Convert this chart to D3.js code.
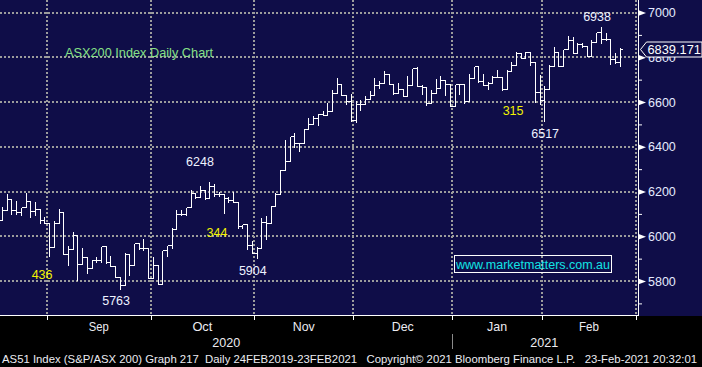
<!DOCTYPE html>
<html><head><meta charset="utf-8">
<script src="https://cdn.jsdelivr.net/npm/d3@7"></script>
<style>
html,body{margin:0;padding:0;background:#000;}
svg{display:block;}
text{font-family:"Liberation Sans",Arial,sans-serif;}
</style></head><body>
<svg id="c" width="702" height="367"></svg>
<script>
// ---- data (ASX200 daily bars, 18 Aug 2020 - 23 Feb 2021) ----
const opens = [6074,6117,6166,6117,6107,6129,6156,6114,6121,6073,
 6059,5953,6059,6107,5921,5941,6006,5877,5907,5858,
 5895,5892,5956,5884,5865,5818,5784,5921,5873,5969,
 5948,5948,5815,5873,5788,5939,5961,6033,6099,6099,
 6132,6193,6176,6208,6173,6225,6188,6188,6173,6161,
 6154,6047,6054,5962,5927,5947,6064,6058,6136,6188,
 6297,6337,6449,6416,6416,6481,6501,6529,6548,6541,
 6560,6641,6681,6633,6604,6519,6590,6590,6612,6633,
 6674,6686,6726,6681,6641,6659,6627,6677,6753,6671,
 6667,6597,6641,6664,6699,6681,6582,6681,6681,6604,
 6707,6759,6693,6677,6686,6711,6711,6659,6738,6766,
 6819,6797,6822,6778,6647,6607,6659,6763,6825,6760,
 6837,6877,6819,6859,6849,6807,6867,6914,6881,6881,
 6793,6781];
const highs = [6136,6193,6166,6161,6132,6197,6156,6159,6121,6092,
 6059,6073,6126,6107,5959,6025,6006,5951,5910,5899,
 5914,5956,5956,5917,5865,5818,5929,5921,5969,5973,
 5993,5948,5914,5873,5939,5961,6043,6121,6121,6132,
 6210,6193,6230,6210,6248,6236,6203,6188,6181,6203,
 6154,6057,6054,5982,5957,6088,6094,6139,6196,6300,
 6434,6449,6467,6422,6486,6533,6541,6551,6563,6600,
 6659,6714,6681,6633,6641,6610,6615,6630,6652,6714,
 6699,6744,6726,6686,6689,6659,6719,6753,6763,6679,
 6667,6659,6707,6723,6699,6681,6681,6681,6686,6730,
 6759,6759,6730,6692,6723,6748,6711,6748,6785,6830,
 6819,6827,6822,6778,6726,6674,6770,6852,6830,6837,
 6899,6896,6870,6870,6852,6881,6914,6938,6914,6886,
 6825,6845];
const lows = [6074,6117,6099,6099,6095,6129,6084,6096,6059,6059,
 5910,5953,6059,5921,5873,5941,5806,5874,5837,5858,
 5884,5884,5881,5865,5818,5763,5784,5825,5873,5944,
 5939,5815,5815,5788,5788,5914,5947,6033,6096,6096,
 6132,6173,6176,6166,6173,6181,6181,6102,6151,6151,
 6039,6039,5942,5923,5904,5947,5987,6058,6136,6188,
 6297,6337,6397,6379,6416,6481,6501,6496,6541,6541,
 6560,6641,6633,6593,6516,6511,6563,6590,6612,6633,
 6664,6686,6681,6637,6641,6627,6627,6677,6671,6634,
 6588,6597,6641,6664,6630,6582,6582,6634,6597,6604,
 6707,6689,6677,6656,6686,6711,6655,6659,6738,6766,
 6797,6797,6766,6600,6593,6517,6659,6763,6760,6760,
 6837,6819,6819,6844,6804,6807,6867,6862,6877,6770,
 6773,6763];
const closes = [6117,6166,6117,6107,6129,6156,6114,6121,6073,6059,
 5953,6059,6107,5921,5941,6006,5877,5907,5858,5895,
 5892,5956,5884,5865,5818,5784,5921,5873,5969,5948,
 5948,5815,5873,5788,5939,5961,6033,6099,6099,6132,
 6193,6176,6208,6173,6225,6188,6188,6173,6161,6154,
 6047,6054,5962,5927,5947,6064,6058,6136,6188,6297,
 6337,6449,6416,6416,6481,6501,6529,6548,6541,6560,
 6641,6681,6633,6604,6519,6590,6590,6612,6633,6674,
 6686,6726,6681,6641,6659,6627,6677,6753,6671,6667,
 6597,6641,6664,6699,6681,6582,6681,6681,6604,6707,
 6759,6693,6677,6686,6711,6711,6659,6738,6766,6819,
 6797,6822,6778,6647,6607,6659,6763,6825,6760,6837,
 6877,6819,6859,6849,6807,6867,6914,6881,6881,6793,
 6781,6839.171];
const holidays = ["2020-12-25","2020-12-28","2021-01-01","2021-01-26"];
const monthLabels = ["Sep","Oct","Nov","Dec","Jan","Feb"];
const yearLabels = ["2020","2021"];
const yMajor = [5800,6000,6200,6400,6600,6800,7000];
const yMinor = [5700,5900,6100,6300,6500,6700,6900];
const lastValue = "6839.171";
const notes = [ // label, bar index, value anchor, colour
 {t:"6938", i:126.2, v:6984, c:"#eef2ff"},
 {t:"6517", i:115.2, v:6461, c:"#eef2ff"},
 {t:"6248", i:42.0,  v:6334, c:"#eef2ff"},
 {t:"5904", i:53.2,  v:5845, c:"#eef2ff"},
 {t:"5763", i:24.2,  v:5715, c:"#eef2ff"},
 {t:"436",  i:8.5,   v:5831, c:"#f2f200"},
 {t:"344",  i:45.6,  v:6019, c:"#f2f200"},
 {t:"315",  i:108.4, v:6560, c:"#f2f200"}
];

// ---- layout ----
const W = 702, H = 367, plotR = 638, plotB = 316;
const navy = "#0f0d48";
const svg = d3.select("#c");

// trading calendar
const fmt = d3.utcFormat("%Y-%m-%d");
const days = d3.utcDay.range(new Date(Date.UTC(2020,7,18)), new Date(Date.UTC(2021,2,6)))
  .filter(d => d.getUTCDay() % 6 !== 0 && !holidays.includes(fmt(d)));
const bounds = [];
for (let k = 1; k < days.length; k++) {
  if (days[k].getUTCMonth() !== days[k-1].getUTCMonth()) bounds.push({k: k - 0.5, d: days[k]});
}

const x = d3.scaleLinear().domain([0, 131]).range([2, 2 + 4.715*131]);
const y = d3.scaleLinear().domain([5645, 7056]).range([315.7, 0]);

svg.append("rect").attr("width", W).attr("height", H).attr("fill", "#000");
svg.append("rect").attr("width", W).attr("height", plotB).attr("fill", navy);

const defs = svg.append("defs");
defs.append("clipPath").attr("id","pc").append("rect").attr("width", plotR).attr("height", plotB);

// gridlines
const grid = svg.append("g").attr("stroke", "#9c9c9c").attr("stroke-width", 2).attr("stroke-dasharray", "2,2");
yMajor.forEach(v => {
  const yy = Math.round(y(v));
  grid.append("line").attr("x1", 0).attr("x2", plotR - 2).attr("y1", yy).attr("y2", yy);
});
bounds.forEach(b => {
  const xx = Math.round(x(b.k));
  grid.append("line").attr("x1", xx).attr("x2", xx).attr("y1", 0).attr("y2", plotB);
});

// title
svg.append("text").attr("x", 65).attr("y", 56.5).attr("font-size", 12.7)
  .attr("fill", "#86e086").attr("textLength", 148).text("ASX200 Index Daily Chart");

// bars
const bars = opens.map((o, i) => ({i, o, h: highs[i], l: lows[i], c: closes[i]}));
const bg = svg.append("g").attr("clip-path", "url(#pc)").attr("stroke", "#fff").attr("stroke-width", 1)
  .attr("fill", "none").attr("shape-rendering", "crispEdges");
bg.selectAll("path").data(bars).join("path").attr("d", d => {
  const xx = Math.round(x(d.i)) + 0.5;
  const yh = Math.round(y(d.h)) + 0.5, yl = Math.round(y(d.l)) + 0.5;
  const yo = Math.round(y(d.o)) + 0.5, yc = Math.round(y(d.c)) + 0.5;
  return `M${xx},${yh}V${yl}M${xx-2.6},${yo}H${xx}M${xx},${yc}H${xx+2.6}`;
});

// annotations
svg.append("g").selectAll("text").data(notes).join("text")
  .attr("x", d => x(d.i)).attr("y", d => y(d.v)).attr("dy", "0.36em")
  .attr("text-anchor", "middle").attr("font-size", 12.5).attr("fill", d => d.c).text(d => d.t);

// watermark
const wm = svg.append("g");
wm.append("rect").attr("x", 454.5).attr("y", 255.5).attr("width", 157).attr("height", 17)
  .attr("fill", "none").attr("stroke", "#fff").attr("stroke-width", 1);
wm.append("text").attr("x", 456).attr("y", 268.5).attr("font-size", 12.5).attr("fill", "#12e4e4")
  .attr("textLength", 154).text("www.marketmatters.com.au");

// frame lines
svg.append("line").attr("x1", 0).attr("x2", plotR + 0.5).attr("y1", plotB - 0.5).attr("y2", plotB - 0.5)
  .attr("stroke", "#fff").attr("stroke-width", 1);
svg.append("line").attr("x1", plotR + 0.5).attr("x2", plotR + 0.5).attr("y1", 0).attr("y2", plotB)
  .attr("stroke", "#fff").attr("stroke-width", 1);

// y axis
const ya = svg.append("g").attr("transform", `translate(${plotR},0)`)
  .call(d3.axisRight(y).tickValues(yMajor).tickSize(0).tickPadding(10).tickFormat(d3.format("d")));
ya.select(".domain").remove();
ya.selectAll("text").attr("font-size", 12.5).attr("fill", "#e4ebff").attr("font-family", "Liberation Sans, Arial, sans-serif");
ya.selectAll(".tick").append("path").attr("d", "M0,-3L8,0L0,3Z").attr("fill", "#fff");
const ym = svg.append("g").attr("transform", `translate(${plotR},0)`)
  .call(d3.axisRight(y).tickValues(yMinor).tickSize(4).tickFormat(""));
ym.select(".domain").remove();
ym.selectAll("line").attr("stroke", "#fff");

// current value flag
const yv = Math.round(y(+lastValue)) + 0.5;
svg.append("path").attr("d", `M640.5,${yv}L646.5,${yv-7.5}H702V${yv+7.5}H646.5Z`)
  .attr("fill", navy).attr("stroke", "#fff").attr("stroke-width", 1);
svg.append("text").attr("x", 647.5).attr("y", yv).attr("dy", "0.36em").attr("font-size", 12.8)
  .attr("fill", "#fff").text(lastValue);

// x axis
const xa = svg.append("g").attr("transform", `translate(0,${plotB})`)
  .call(d3.axisBottom(x).tickValues(bounds.map(b => b.k)).tickSize(4).tickFormat(""));
xa.select(".domain").remove();
xa.selectAll("line").attr("stroke", "#fff");
xa.selectAll(".tick").attr("transform", d => `translate(${Math.round(x(d)) + 0.5},0)`);

const mg = svg.append("g").attr("font-size", 13).attr("fill", "#ececf2").attr("text-anchor", "middle");
monthLabels.forEach((m, j) => {
  const cx = (x(bounds[j].k) + x(bounds[j+1].k)) / 2;
  mg.append("text").attr("x", cx).attr("y", 331).attr("textLength", m === "Nov" || m === "Dec" ? 22 : 20)
    .attr("lengthAdjust", "spacingAndGlyphs").text(m);
});
const janB = bounds.find(b => b.d.getUTCMonth() === 0).k;
const endB = bounds[bounds.length - 1].k;
const yr = [(0 + x(janB)) / 2, (x(janB) + x(endB)) / 2];
yearLabels.forEach((t, j) => {
  mg.append("text").attr("x", yr[j]).attr("y", 347).attr("textLength", 28)
    .attr("lengthAdjust", "spacingAndGlyphs").text(t);
});
svg.append("line").attr("x1", Math.round(x(janB)) + 0.5).attr("x2", Math.round(x(janB)) + 0.5)
  .attr("y1", 334).attr("y2", 349).attr("stroke", "#8a8a8a");

// footer
svg.append("text").attr("x", 2).attr("y", 363).attr("font-size", 10.8).attr("fill", "#ececf2")
  .attr("textLength", 695).attr("lengthAdjust", "spacingAndGlyphs").style("white-space", "pre")
  .text("AS51 Index (S&P/ASX 200) Graph 217  Daily 24FEB2019-23FEB2021   Copyright\u00a9 2021 Bloomberg Finance L.P.   23-Feb-2021 20:32:01");
</script>
</body></html>
